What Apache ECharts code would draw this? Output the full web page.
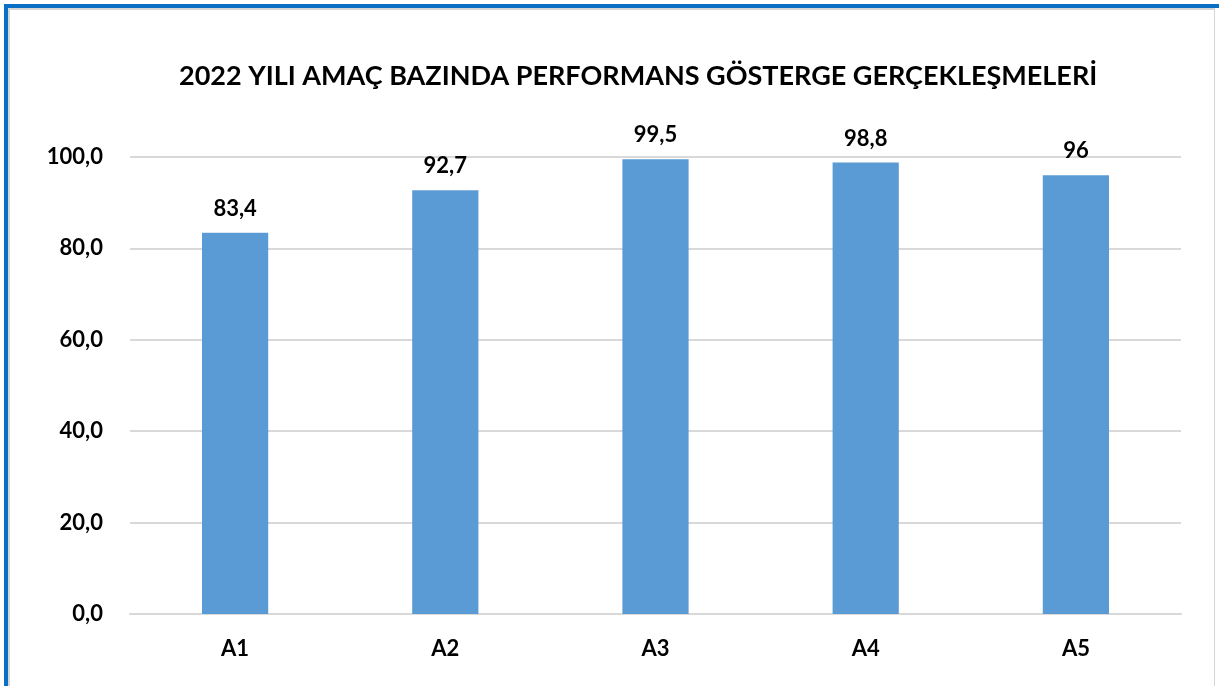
<!DOCTYPE html>
<html>
<head>
<meta charset="utf-8">
<script src="https://cdn.jsdelivr.net/npm/echarts@6/dist/echarts.min.js"></script>
<style>
html,body{margin:0;padding:0;background:#fff;}
#frame{position:absolute;left:4px;top:4px;width:1215px;height:682px;border-left:4px solid #0a70c6;border-top:4px solid #0a70c6;box-sizing:border-box;}
#inner{position:absolute;left:0;top:0;right:4px;bottom:-2px;border-left:2px solid #d6d6d6;border-top:2px solid #d6d6d6;border-right:1px solid #d6d6d6;box-sizing:border-box;}
#chart{position:absolute;left:0;top:0;width:1219px;height:686px;}
</style>
</head>
<body>
<div id="frame"><div id="inner"></div></div>
<div id="chart"></div>
<script>
const titleText = '2022 YILI AMAÇ BAZINDA PERFORMANS GÖSTERGE GERÇEKLEŞMELERİ';
const categories = ['A1', 'A2', 'A3', 'A4', 'A5'];
const values = [83.4, 92.7, 99.5, 98.8, 96];

const chart = echarts.init(document.getElementById('chart'));
const font = 'Lato, "Open Sans", sans-serif';
chart.setOption({
  animation: false,
  backgroundColor: 'transparent',
  title: {
    text: titleText,
    left: 174,
    top: 58,
    textStyle: { fontFamily: font, fontWeight: 'bold', fontSize: 27, color: '#000' }
  },
  grid: { left: 130, right: 38, top: 157, bottom: 72, containLabel: false },
  xAxis: {
    type: 'category',
    data: categories,
    axisLine: { show: true, lineStyle: { color: '#d9d9d9', width: 2 } },
    axisTick: { show: false },
    axisLabel: { margin: 24, fontFamily: font, fontWeight: 'bold', fontSize: 22, color: '#000' }
  },
  yAxis: {
    type: 'value',
    min: 0, max: 100, interval: 20,
    axisLine: { show: false },
    axisTick: { show: false },
    splitLine: { lineStyle: { color: '#d9d9d9', width: 2 } },
    axisLabel: {
      margin: 27,
      fontFamily: font, fontWeight: 'bold', fontSize: 22, color: '#000',
      formatter: v => v.toFixed(1).replace('.', ',')
    }
  },
  series: [{
    type: 'bar',
    data: values,
    barWidth: '31.5%',
    itemStyle: { color: '#5b9bd5' },
    label: {
      show: true,
      position: 'top',
      distance: 13,
      fontFamily: font, fontWeight: 'bold', fontSize: 22, color: '#000',
      formatter: p => String(p.value).replace('.', ',')
    }
  }]
});
</script>
</body>
</html>
